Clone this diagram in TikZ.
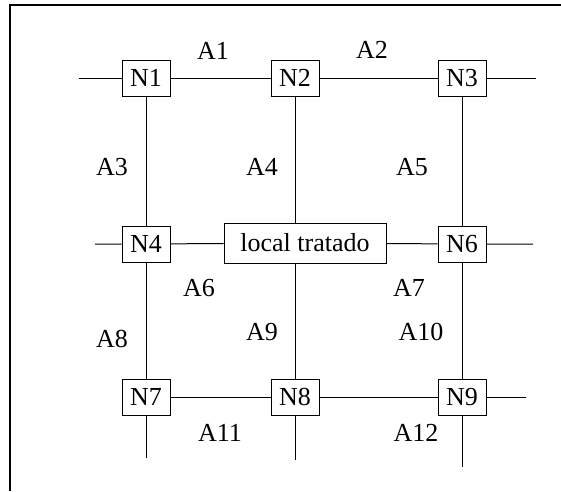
\documentclass[tikz,border=0pt]{standalone}
\usepackage{fontspec}
\setmainfont{Liberation Serif}
\usepackage{tikz}
\usetikzlibrary{positioning,calc}
\tikzset{
    nodebox/.style={
        draw,
        line width=1pt,
        fill=white,
        align=center,
        inner sep=0pt,
        minimum height=36pt,
        minimum width=48pt,
        font=\fontsize{26}{30}\selectfont
    },
    localbox/.style={
        nodebox,
        minimum height=40pt,
        minimum width=162pt
    },
    wire/.style={line width=1pt},
    arclbl/.style={
        inner sep=0pt,
        font=\fontsize{26}{30}\selectfont
    }
}

\begin{document}
\begin{tikzpicture}[x=1pt,y=-1pt]
        \useasboundingbox (0,0) rectangle (561,491);
        \draw[line width=2pt] (10,491) -- (10,5) -- (561,5);

        % nos da malha
        \node[nodebox] (n1) at (146,78) {N1};
        \node[nodebox] (n2) at (295,78) {N2};
        \node[nodebox] (n3) at (462,78) {N3};
        \node[nodebox] (n4) at (146,244) {N4};
        \node[localbox] (local) at (305,243) {local tratado};
        \node[nodebox] (n6) at (462,244) {N6};
        \node[nodebox] (n7) at (146,397) {N7};
        \node[nodebox] (n8) at (295,397) {N8};
        \node[nodebox] (n9) at (462,397) {N9};

        % pontas soltas
        \coordinate (w1) at (79,78);
        \coordinate (e1) at (536,78);
        \coordinate (w2) at (95,244);
        \coordinate (e2) at (533,244);
        \coordinate (e3) at (526,397);
        \coordinate (s7) at (146,458);
        \coordinate (s8) at (295,460);
        \coordinate (s9) at (462,467);

        \draw[wire] (w1) -- (n1) -- (n2) -- (n3) -- (e1);
        \draw[wire] (w2) -- (n4) -- (local) -- (n6) -- (e2);
        \draw[wire] (n7) -- (n8) -- (n9) -- (e3);
        \draw[wire] (n1) -- (n4) -- (n7) -- (s7);
        \draw[wire] (n2) -- (n2 |- local.north);
        \draw[wire] (n8 |- local.south) -- (n8) -- (s8);
        \draw[wire] (n3) -- (n6) -- (n9) -- (s9);

        % arcos
        \node[arclbl] (a1) at (213,51) {A1};
        \node[arclbl] (a2) at (372,50) {A2};
        \node[arclbl] (a3) at (112,167) {A3};
        \node[arclbl] (a4) at (262,167) {A4};
        \node[arclbl] (a5) at (412,167) {A5};
        \node[arclbl] (a6) at (199,288) {A6};
        \node[arclbl] (a7) at (409,288) {A7};
        \node[arclbl] (a8) at (112,339) {A8};
        \node[arclbl] (a9) at (262,332) {A9};
        \node[arclbl] (a10) at (421,332) {A10};
        \node[arclbl] (a11) at (220,433) {A11};
        \node[arclbl] (a12) at (416,433) {A12};
    \end{tikzpicture}
\end{document}
